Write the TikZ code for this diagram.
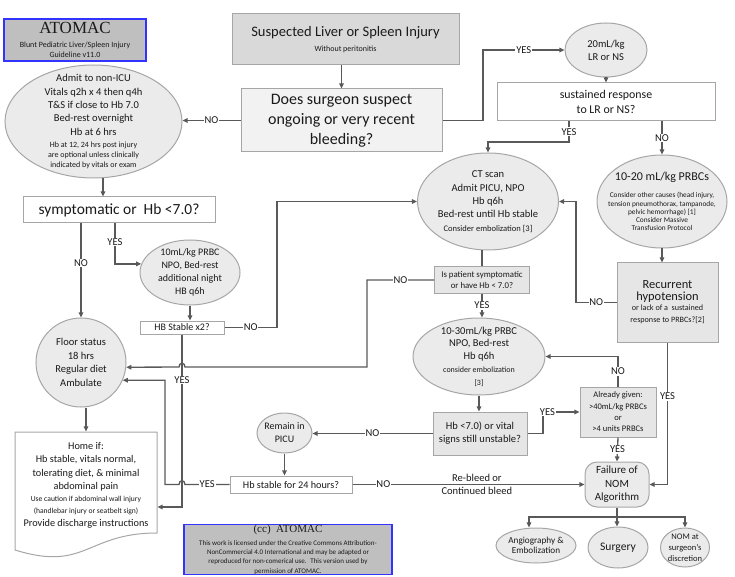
\documentclass[tikz,border=0pt]{standalone}
\usepackage{fontspec}
\setmainfont{Carlito}
\newfontfamily\atomacserif{Liberation Serif}
\usetikzlibrary{shapes.geometric,arrows.meta,calc}

\definecolor{linegray}{HTML}{595959}
\definecolor{edgegray}{HTML}{A6A6A6}
\definecolor{ovalfill}{HTML}{EBEBEB}
\definecolor{boxgray}{HTML}{E6E6E6}
\definecolor{darkfill}{HTML}{D9D9D9}
\definecolor{palefill}{HTML}{F2F2F2}
\definecolor{logofill}{HTML}{BFBFBF}
\definecolor{logoedge}{HTML}{3333FF}
\definecolor{inktext}{HTML}{1A1A1A}

\newcommand{\fsz}[2]{\fontsize{#1}{#2}\selectfont}

\tikzset{every picture/.style={line width=0.75pt}}
\tikzset{
  oval/.style={ellipse, draw=edgegray, fill=ovalfill, inner sep=-40pt, align=center, text=inktext},
  decbox/.style={rectangle, draw=edgegray, fill=white, inner sep=0pt, align=center, text=inktext},
  logobox/.style={rectangle, draw=logoedge, line width=1.1pt, fill=logofill, inner sep=0pt, align=center, text=inktext},
  flow/.style={draw=linegray, line width=1pt, -{Triangle[length=3.8pt,width=3.4pt]}},
  joinline/.style={draw=linegray, line width=1pt},
  yesno/.style={fill=white, inner sep=0.6pt, text=inktext, font=\fsz{7.9}{9}},
}

\begin{document}
\begin{tikzpicture}[x=0.75pt,y=0.75pt,yscale=-1]
\useasboundingbox (0,0) rectangle (735,577);

% Title boxes
\node (atomac) [logobox, minimum width=106.5pt, minimum height=31.5pt, font=\fsz{6}{7.5}] at (75,40) {{\atomacserif\fsz{12.75}{13}ATOMAC}\\[3pt]Blunt Pediatric Liver/Spleen Injury\\Guideline v11.0};
\node (suspect) [decbox, fill=darkfill, minimum width=170.25pt, minimum height=38.25pt, font=\fsz{10.9}{11.6}] at (345.5,39.5) {Suspected Liver or Spleen Injury\\\fsz{6}{8}Without peritonitis};
\node (surgeon) [decbox, fill=palefill, minimum width=150.75pt, minimum height=47.25pt, font=\fsz{12}{15}] at (341.5,120.5) {Does surgeon suspect\\ongoing or very recent\\bleeding?};

% Right branch
\node (lrns) [oval, minimum width=61.5pt, minimum height=40.5pt, font=\fsz{7.9}{9.75}] at (606,50) {20mL/kg\\LR or NS};
\node (sustain) [decbox, minimum width=163.5pt, minimum height=28.5pt, font=\fsz{8.9}{11.25}] at (606,102) {sustained response\\to LR or NS?};
\node (ct) [oval, minimum width=105.75pt, minimum height=72.75pt, font=\fsz{7.9}{10}] at (488,201.5) {CT scan\\Admit PICU, NPO\\Hb q6h\\Bed-rest until Hb stable\\\fsz{6.4}{9}Consider embolization [3]};
\node (prbc20) [oval, minimum width=97.5pt, minimum height=69.75pt, font=\fsz{5.5}{6.2}] at (662,201.5) {{\fsz{9}{11}10-20 mL/kg PRBCs}\\[7pt]Consider other causes (head injury,\\tension pneumothorax, tampanode,\\pelvic hemorrhage) [1]\\Consider Massive\\Transfusion Protocol};
\node (recur) [decbox, fill=boxgray, minimum width=75.75pt, minimum height=59.25pt, font=\fsz{6.1}{9}] at (667.5,302.5) {\fsz{9.3}{9.3}Recurrent\\\fsz{9.3}{9.3}hypotension\\[-1.5pt]or lack of a~ sustained\\response to PRBCs?[2]};
\node (ptsym) [decbox, fill=boxgray, minimum width=71.25pt, minimum height=19.5pt, font=\fsz{6.6}{8.8}] at (482,280) {Is patient symptomatic\\or have Hb < 7.0?};
\node (prbc30) [oval, minimum width=99pt, minimum height=57.75pt, font=\fsz{7.9}{9.6}] at (479,356.5) {10-30mL/kg PRBC\\NPO, Bed-rest\\Hb q6h\\\fsz{6}{9}consider embolization\\\fsz{6}{9}[3]};
\node (unstable) [decbox, fill=boxgray, minimum width=70.5pt, minimum height=32.25pt, font=\fsz{7.9}{9.75}] at (480,433.5) {Hb <7.0) or vital\\signs still unstable?};
\node (given) [decbox, fill=boxgray, minimum width=57pt, minimum height=37.5pt, font=\fsz{6.4}{8.5}] at (618,412) {Already given:\\>40mL/kg PRBCs\\or\\>4 units PRBCs};
\node (picu) [oval, minimum width=41.25pt, minimum height=30pt, font=\fsz{7.5}{9.75}] at (284.5,433) {Remain in\\PICU};
\node (stable24) [decbox, minimum width=91.5pt, minimum height=12.75pt, font=\fsz{7.65}{9}] at (291,484.5) {Hb stable for 24 hours?};
\node (nomfail) [decbox, fill=ovalfill, rounded corners=9pt, minimum width=48pt, minimum height=33.75pt, font=\fsz{8.25}{10.1}] at (617,484.5) {Failure of\\NOM\\Algorithm};
\node (angio) [oval, minimum width=60pt, minimum height=26.25pt, font=\fsz{6.9}{8}] at (536,545.5) {Angiography \&\\Embolization};
\node (surgery) [oval, minimum width=45pt, minimum height=30.75pt, font=\fsz{8.7}{10}] at (618,547.5) {Surgery};
\node (nomdisc) [oval, minimum width=36.75pt, minimum height=29.25pt, font=\fsz{6.4}{8.25}] at (685,547.5) {NOM at\\surgeon’s\\discretion};

% Left branch
\node (nonicu) [oval, minimum width=132.75pt, minimum height=84.75pt, font=\fsz{7.9}{10}] at (93.5,121.5) {Admit to non-ICU\\Vitals q2h x 4 then q4h\\T\&S if close to Hb 7.0\\Bed-rest overnight\\Hb at 6 hrs\\[-1pt]\fsz{6}{7.5}Hb at 12, 24 hrs post injury\\[-2.5pt]\fsz{6}{7.5}are optional unless clinically\\[-2.5pt]\fsz{6}{7.5}indicated by vitals or exam};
\node (sympt) [decbox, minimum width=144pt, minimum height=19.5pt, font=\fsz{11.6}{13}] at (119,210) {symptomatic or~ Hb <7.0?};
\node (prbc10) [oval, minimum width=75pt, minimum height=48.75pt, font=\fsz{7.5}{9.75}] at (190,272.5) {10mL/kg PRBC\\NPO, Bed-rest\\additional night\\HB q6h};
\node (stable2) [decbox, minimum width=63pt, minimum height=9.75pt, font=\fsz{7.5}{8}] at (182,327.5) {HB Stable x2?};
\node (floor) [oval, minimum width=67.5pt, minimum height=66.75pt, font=\fsz{7.9}{10.1}] at (81,362.5) {Floor status\\18 hrs\\Regular diet\\Ambulate};

%Shape: Document
\draw [draw=edgegray, fill=white] (15,432) -- (157,432) -- (157,533) .. controls (86,533) and (86,572) .. (15,550) -- cycle;
\node (home) [inner sep=0pt, minimum width=106.5pt, minimum height=88.5pt] at (86,491) {};
\node (hometext) [align=center, text=inktext, inner sep=0pt, font=\fsz{7.7}{10}] at (86,485.5) {Home if:\\Hb stable, vitals normal,\\tolerating diet, \& minimal\\abdominal pain\\[-1pt]\fsz{5.7}{9}Use caution if abdominal wall injury\\[-1pt]\fsz{5.7}{9}(handlebar injury or seatbelt sign)\\Provide discharge instructions};

\node (cc) [logobox, minimum width=156pt, minimum height=36.75pt, font=\fsz{5.25}{7}] at (288,549.5) {{\atomacserif\fsz{8.25}{9}(cc)~ ATOMAC}\\[2.7pt]This work is licensed under the Creative Commons Attribution-\\NonCommercial 4.0 International and may be adapted or\\reproduced for non-comerical use.~ This version used by\\permission of ATOMAC.};

% bend points
\coordinate (yesup) at (483,0);
\coordinate (yesct) at (569,142);
\coordinate (yes10) at (115,0);
\coordinate (nohb) at (277,0);
\coordinate (nosym) at (367,0);
\coordinate (hopA) at (182,367);
\coordinate (hopB) at (182,484.5);
\coordinate (yesbk) at (165,0);
\coordinate (yeshome) at (182,507);
\coordinate (yesgv) at (543,0);
\coordinate (noct) at (576,0);
\coordinate (split) at (617,517);
\coordinate (angiotop) at (529,0);

% Connectors
\draw[flow] (surgeon.north |- suspect.south) -- (surgeon.north);
\draw[flow] (surgeon.east) -- (surgeon.east -| yesup) -- (yesup |- lrns.west) -- node[yesno]{YES} (lrns.west);
\draw[flow] (lrns.south) -- (lrns.south |- sustain.north);
\draw[flow] (sustain.south -| yesct) -- node[yesno]{YES} (yesct) -| (ct.north);
\draw[flow] (sustain.south -| prbc20.north) -- node[yesno]{NO} (prbc20.north);
\draw[flow] (surgeon.west) -- node[yesno]{NO} (surgeon.west -| nonicu.east);
\draw[flow] ($(nonicu.south)+(9.5,0)$) -- ($(sympt.north)+(-16,0)$);
\draw[flow] (sympt.south -| floor.north) -- node[yesno,pos=0.42]{NO} (floor.north);
\draw[flow] (sympt.south -| yes10) |- node[yesno,pos=0.23]{YES} (prbc10.170);
\draw[flow] (prbc10.south) -- (prbc10.south |- stable2.north);
\draw[flow] (stable2.east) -- node[yesno]{NO} (stable2.east -| nohb) |- (ct.west);
\draw[flow] (stable2.south) -- node[yesno,pos=0.264]{YES} (stable2.south |- yeshome) -- (home.east |- yeshome);
\draw[joinline] (ptsym.north |- ct.south) -- (ptsym.north);
\draw[flow] (ptsym.west) -- node[yesno]{NO} (ptsym.west -| nosym) -- (nosym |- hopA) -- ($(hopA)+(3,0)$) .. controls +(0,-5) and +(0,-5) .. ($(hopA)+(-3,0)$) -- (floor.-6);
\draw[flow] (stable24.west) -- node[yesno]{YES} ($(hopB)+(3,0)$) .. controls +(0,-5) and +(0,-5) .. ($(hopB)+(-3,0)$) -- (yesbk |- hopB) |- (floor.-23);
\draw[flow] (ptsym.south) -- node[yesno]{YES} (ptsym.south |- prbc30.north);
\draw[flow] (prbc30.south) -- (prbc30.south |- unstable.north);
\draw[flow] (unstable.west) -- node[yesno]{NO} (unstable.west -| picu.east);
\draw[flow] (unstable.east) -- (unstable.east -| yesgv) |- node[yesno,pos=0.56]{YES} (given.west);
\draw[flow] (given.north) |- node[yesno,pos=0.25]{NO} (prbc30.east);
\draw[flow] (given.south) -- node[yesno]{YES} (nomfail.north);
\draw[flow] (stable24.east) -- node[yesno,pos=0.133]{NO} node[pos=0.536, align=center, text=inktext, font=\fsz{7.9}{9.75}]{Re-bleed or\\Continued bleed} (stable24.east -| nomfail.west);
\draw[flow] (recur.west) -- node[yesno]{NO} (recur.west -| noct) |- (ct.east);
\draw[flow] (recur.south) |- node[yesno,pos=0.19]{YES} (nomfail.east);
\draw[flow] (prbc20.south) -- (prbc20.south |- recur.north);
\draw[joinline] (nomfail.south) -- (split);
\draw[flow] (split) -| (angiotop |- angio.north);
\draw[flow] (split) -- (split |- surgery.north);
\draw[flow] (split) -| (nomdisc.north);
\draw[flow] (home.north |- floor.south) -- (home.north);
\draw[flow] (picu.south) -- (picu.south |- stable24.north);

\end{tikzpicture}
\end{document}
